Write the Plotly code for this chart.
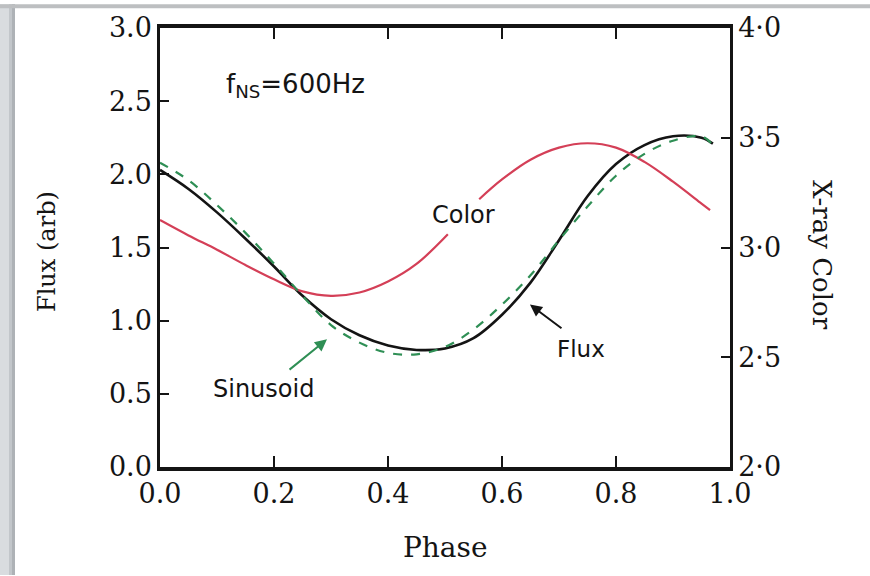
import plotly.graph_objects as go

# Pulse profile over one rotation phase
phase = [0.00, 0.05, 0.10, 0.15, 0.20, 0.25, 0.30, 0.35, 0.40, 0.45, 0.50,
         0.55, 0.60, 0.65, 0.70, 0.75, 0.80, 0.85, 0.90, 0.95, 0.97]
flux = [2.03, 1.90, 1.74, 1.56, 1.37, 1.17, 1.01, 0.90, 0.83, 0.80, 0.81,
        0.88, 1.04, 1.26, 1.55, 1.85, 2.07, 2.20, 2.26, 2.25, 2.21]
sinusoid = [2.08, 1.96, 1.79, 1.60, 1.39, 1.17, 0.97, 0.85, 0.78, 0.77, 0.82,
            0.94, 1.11, 1.31, 1.55, 1.78, 1.99, 2.14, 2.23, 2.26, 2.20]

# X-ray colour (right axis); the break leaves room for its label
color_phase = [0.00, 0.05, 0.10, 0.15, 0.20, 0.25, 0.30, 0.35, 0.40, 0.45,
               0.505, 0.53, 0.56, 0.60, 0.65, 0.70, 0.75, 0.80, 0.85, 0.90,
               0.95, 0.965]
color = [3.125, 3.055, 2.99, 2.92, 2.855, 2.80, 2.78, 2.795, 2.845, 2.925,
         3.06, None, 3.22, 3.31, 3.40, 3.455, 3.475, 3.455, 3.39, 3.30,
         3.20, 3.17]

x_ticks = [0.0, 0.2, 0.4, 0.6, 0.8, 1.0]
x_labels = ["0.0", "0.2", "0.4", "0.6", "0.8", "1.0"]
y_ticks = [0.0, 0.5, 1.0, 1.5, 2.0, 2.5, 3.0]
y_labels = ["0.0", "0.5", "1.0", "1.5", "2.0", "2.5", "3.0"]
y2_ticks = [2.0, 2.5, 3.0, 3.5, 4.0]
y2_labels = ["2·0", "2·5", "3·0", "3·5", "4·0"]

RED = "#d43f57"
GREEN = "#2f8f55"
INK = "#141414"
SERIF = "DejaVu Serif"
SANS = "DejaVu Sans"

fig = go.Figure()
fig.add_trace(go.Scatter(x=color_phase, y=color, yaxis="y2", mode="lines",
                         line=dict(color=RED, width=2.2, shape="spline"),
                         connectgaps=False, hoverinfo="skip"))
fig.add_trace(go.Scatter(x=phase, y=sinusoid, xaxis="x2", mode="lines",
                         line=dict(color=GREEN, width=2.2, dash="dash", shape="spline"),
                         hoverinfo="skip"))
fig.add_trace(go.Scatter(x=phase, y=flux, mode="lines",
                         line=dict(color=INK, width=2.6, shape="spline"),
                         hoverinfo="skip"))

W, H = 870, 576
L, R, T, B = 160, 140, 24, 109
pw, ph = W - L - R, H - T - B


def px(xp):
    return (xp - L) / pw


def py(yp):
    return (H - B - yp) / ph


def label(text, x, y, ref, size, family=SANS, angle=0, anchor="center"):
    return dict(text=text, x=x, y=y, xref=ref, yref="paper" if ref == "paper" else "y",
                xanchor=anchor, yanchor="middle", showarrow=False, textangle=angle,
                font=dict(family=family, size=size, color=INK))


annotations = [
    label("Phase", px(445), py(548), "paper", 28, SERIF),
    label("Flux (arb)", px(47), py(250), "paper", 24, SERIF, -90),
    label("X-ray Color", px(822), py(253), "paper", 26, SERIF, 90),
    label("f<sub>NS</sub>=600Hz", 0.112, 2.61, "x", 26, anchor="left"),
    label("Color", 0.533, 1.72, "x", 24),
    label("Flux", 0.739, 0.806, "x", 23),
    label("Sinusoid", 0.182, 0.535, "x", 24),
    dict(text="", x=0.649, y=1.11, ax=0.707, ay=0.941, xref="x", yref="y",
         axref="x", ayref="y", showarrow=True, arrowhead=2, arrowsize=1.2,
         arrowwidth=2, arrowcolor=INK),
    dict(text="", x=0.293, y=0.873, ax=0.2246, ay=0.657, xref="x", yref="y",
         axref="x", ayref="y", showarrow=True, arrowhead=2, arrowsize=1.2,
         arrowwidth=2, arrowcolor=GREEN),
]

# soft grey edge framing the page
shapes = [
    dict(type="rect", xref="paper", yref="paper", x0=px(0), x1=px(15),
         y0=py(H), y1=py(0), fillcolor="#d9dcdf", line_width=0, layer="below"),
    dict(type="rect", xref="paper", yref="paper", x0=px(9), x1=px(15),
         y0=py(H), y1=py(0), fillcolor="#c2c6ca", line_width=0, layer="below"),
    dict(type="rect", xref="paper", yref="paper", x0=px(12), x1=px(15),
         y0=py(H), y1=py(0), fillcolor="#aeb2b6", line_width=0, layer="below"),
    dict(type="rect", xref="paper", yref="paper", x0=px(0), x1=px(W),
         y0=py(4), y1=py(0), fillcolor="#bdbfc1", line_width=0, layer="below"),
]

tick_font = dict(family=SERIF, size=27, color=INK)
common = dict(ticks="inside", tickwidth=2, tickcolor=INK, showgrid=False, zeroline=False)

fig.update_layout(
    width=W, height=H,
    margin=dict(l=L, r=R, t=T, b=B),
    paper_bgcolor="white", plot_bgcolor="white",
    showlegend=False,
    annotations=annotations,
    shapes=shapes,
    xaxis=dict(range=[0, 1], tickvals=x_ticks, ticktext=x_labels, ticklen=11,
               showline=True, linewidth=4, linecolor=INK, mirror=True,
               tickfont=tick_font, **common),
    xaxis2=dict(range=[0, 1], tickvals=x_ticks, overlaying="x", side="top",
                anchor="y", ticklen=11, showline=False, showticklabels=False,
                **common),
    yaxis=dict(range=[0, 3], tickvals=y_ticks, ticktext=y_labels, ticklen=9,
               showline=True, linewidth=2.5, linecolor=INK,
               tickfont=tick_font, **common),
    yaxis2=dict(range=[2, 4], tickvals=y2_ticks, ticktext=y2_labels,
                overlaying="y", side="right", ticklen=9,
                showline=True, linewidth=2.5, linecolor=INK,
                tickfont=tick_font, **common),
)

fig.write_html("out.html")
